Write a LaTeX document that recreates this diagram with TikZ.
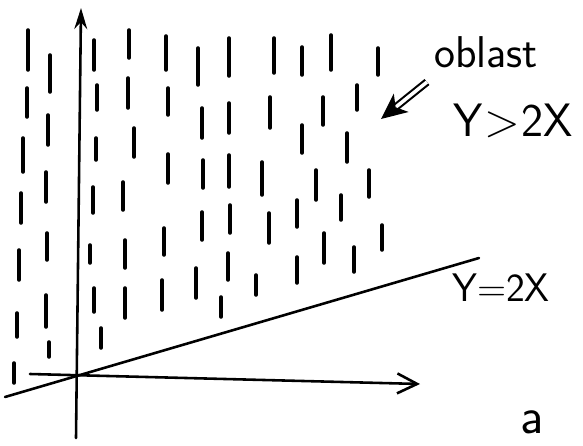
\documentclass[tikz,border=0pt]{standalone}
\usepackage{fontspec}
\usetikzlibrary{arrows.meta}
\begin{document}
\begin{tikzpicture}[x=0.03cm, y=-0.03cm]
% Styly
\tikzstyle{osa} = [
    line width=2.2pt,
    line cap=round
]

\tikzstyle{carka} = [
    line width=3pt,
    line cap=round
]

\tikzstyle{popis} = [
    inner sep=0pt,
    align=center
]

\useasboundingbox (0,0) rectangle (583,446);

% Body
\coordinate (O) at (77,375);
\coordinate (ydole) at (76,438);
\coordinate (ynahore) at (81,8);
\coordinate (xvlevo) at (30,374);
\coordinate (xvpravo) at (420,384);
\coordinate (pvlevo) at (5,397);
\coordinate (pvpravo) at (479,258);
\coordinate (sipka1) at (427,82);
\coordinate (sipka2) at (381,119);

% Popisky
\node[popis, font=\sffamily\fontsize{38}{42}\selectfont] (oblast) at (486,52)
{oblast};

\node[popis, font=\sffamily\fontsize{40}{44}\selectfont] (nerovnost) at (513,121)
{Y\kern1pt>\kern1pt2X};

\node[popis, font=\sffamily\fontsize{34}{38}\selectfont] (primka) at (501,288)
{Y=2X};

\node[popis, font=\sffamily\fontsize{44}{48}\selectfont] (a) at (532,422)
{a};

% Osy
\draw[osa, -{Stealth[length=18pt, width=11pt, inset=6pt]}] (ydole) -- (ynahore);

\draw[osa, -{Straight Barb[length=17pt, width=17pt]}] (xvlevo) -- (xvpravo);

% Primka
\draw[osa] (pvlevo) -- (pvpravo);

% Sipka
\draw[double, double distance=3pt, line width=1.8pt,
    -{Stealth[length=22pt, width=20pt, inset=6pt]}] (sipka1) -- (sipka2);

% Carky
\foreach \x/\ya/\yb in {
    28/30/70, 50/55/92, 27/88/117, 48/115/145, 23/138/172, 46/172/202,
    21/193/223, 19/250/280, 47/233/260, 46/295/327, 17/313/337, 49/342/357,
    14/363/383,
    94/40/70, 97/85/110, 96/138/160, 93/187/213, 90/245/263, 94/288/312,
    101/328/348,
    129/30/58, 128/78/108, 134/128/157, 123/182/210, 125/240/268, 125/288/318,
    166/36/70, 168/88/115, 168/154/183, 164/228/255, 162/280/310,
    198/48/85, 202/108/138, 203/160/188, 202/212/240, 196/268/298,
    229/38/76, 229/103/133, 229/155/187, 230/205/233, 228/253/280, 221/297/317,
    274/38/73, 270/97/128, 262/162/195, 269/213/243, 256/275/295,
    302/47/75, 302/125/153, 297/200/227, 297/257/283,
    331/35/70, 323/97/125, 316/170/200, 324/233/263,
    357/85/110, 347/133/162, 341/195/220, 354/247/272,
    378/48/75, 369/170/197, 382/225/250}
    \draw[carka] (\x,\ya) -- (\x,\yb);

\end{tikzpicture}
\end{document}
